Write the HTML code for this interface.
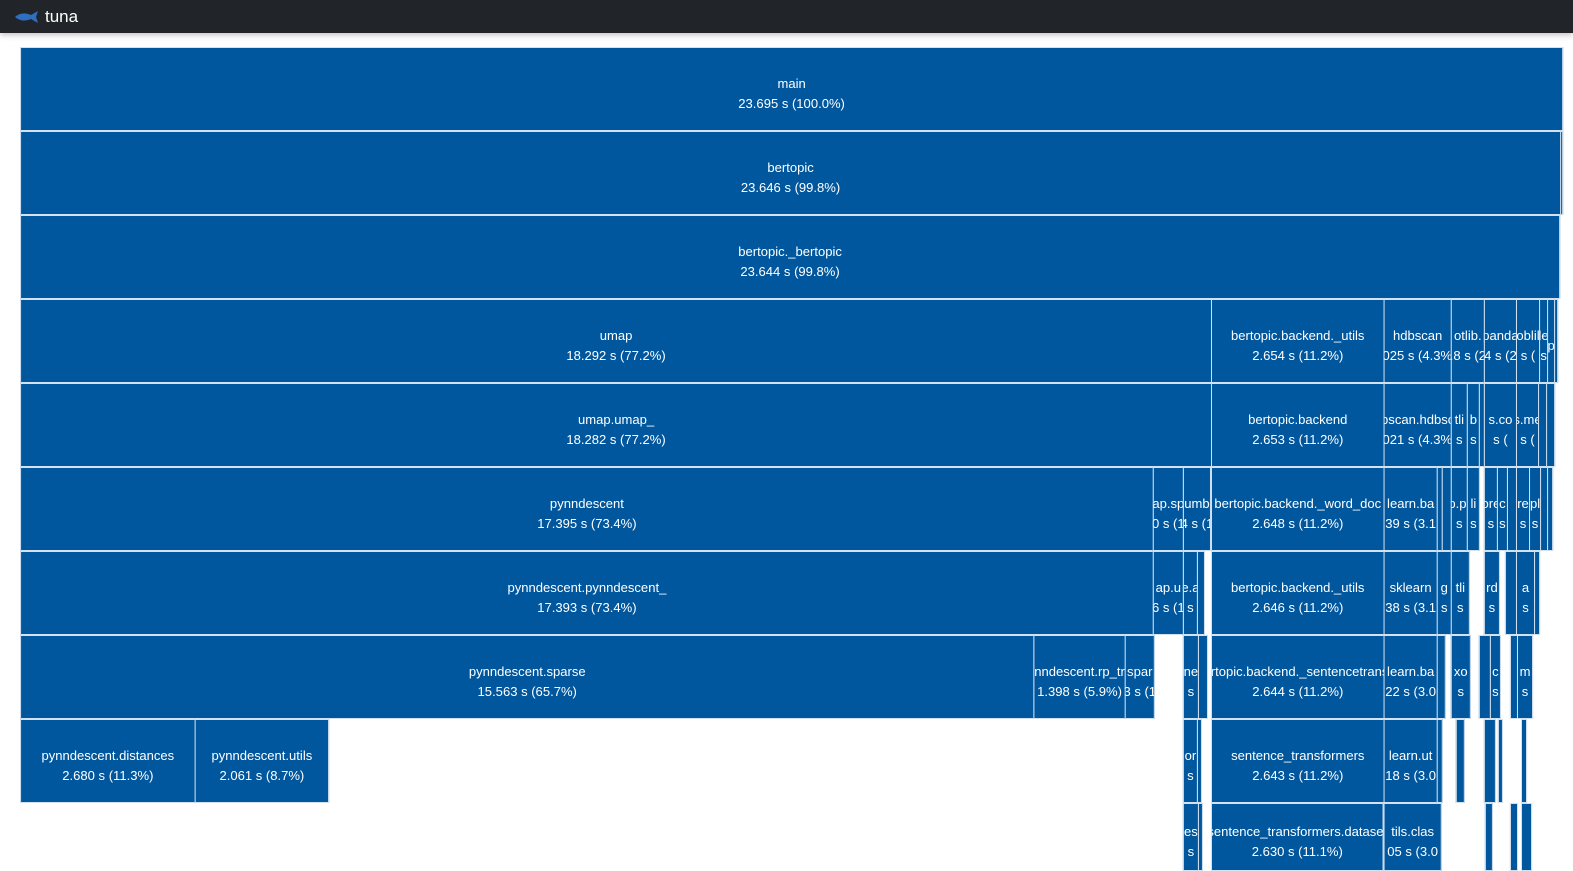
<!DOCTYPE html>
<html><head><meta charset="utf-8">
<style>
html,body{margin:0;padding:0;width:1573px;height:871px;overflow:hidden;background:#fff;font-family:"Liberation Sans","DejaVu Sans",sans-serif;}
#top{position:absolute;left:0;top:0;width:1573px;height:33px;background:#212529;box-shadow:0 2px 6px rgba(0,0,0,.25);z-index:2}
#top span{position:absolute;left:45px;top:7px;color:#fff;font-size:17px;}
#c{position:absolute;left:0;top:0;width:1573px;height:871px;transform:scaleX(1.0033);transform-origin:0 0;}
.b{position:absolute;background:#01579e;outline:1px solid #d4e2f0;outline-offset:-1px;box-sizing:border-box;overflow:hidden;color:#fff;font-size:13px;text-align:center;white-space:nowrap;display:flex;flex-direction:column;justify-content:center;align-items:center;line-height:20px;padding-top:10px;}
</style></head><body>
<div id="top"><svg style="position:absolute;left:14px;top:10px" width="26" height="14" viewBox="0 0 26 14"><path d="M1 7 Q8 1 17 5 L24 1 L22 7 L24 13 L17 9 Q8 13 1 7Z" fill="#2f6fc0"/></svg><span>tuna</span></div>
<div id="c"></div>
<script>
var R=[47,131,215,299,383,467,551,635,719,803];
var d=[
[0,20,1557,"main","23.695 s (100.0%)"],
[1,20,1555,"bertopic","23.646 s (99.8%)"],[1,1555,1557,"",""],
[2,20,1554,"bertopic._bertopic","23.644 s (99.8%)"],
[3,20,1207,"umap","18.292 s (77.2%)"],[3,1207,1379,"bertopic.backend._utils","2.654 s (11.2%)"],[3,1379,1446,"hdbscan",".025 s (4.3%)"],[3,1446,1479,"otlib.",".8 s (2"],[3,1479,1511,"panda","4 s (2"],[3,1511,1534,"oblil","s ("],[3,1534,1542,"le","s"],[3,1542,1549,"p",""],[3,1549,1552,"",""],
[4,20,1207,"umap.umap_","18.282 s (77.2%)"],[4,1207,1379,"bertopic.backend","2.653 s (11.2%)"],[4,1379,1446,"bscan.hdbsc",".021 s (4.3%)"],[4,1446,1462,"tli","s"],[4,1462,1474,"b","s"],[4,1474,1479,"",""],[4,1479,1511,"s.co","s ("],[4,1511,1533,"s.me","s ("],[4,1533,1541,"",""],[4,1541,1549,"",""],
[5,20,1149,"pynndescent","17.395 s (73.4%)"],[5,1149,1179,"ap.sp","0 s (1"],[5,1179,1206,"umb","4 s (1"],[5,1207,1379,"bertopic.backend._word_doc","2.648 s (11.2%)"],[5,1379,1432,"learn.ba","39 s (3.1"],[5,1432,1437,"",""],[5,1437,1446,"",""],[5,1446,1462,"p.pt","s"],[5,1462,1474,"li","s"],[5,1479,1492,"ore","s"],[5,1492,1502,"c","s"],[5,1502,1511,"",""],[5,1511,1524,"re","s"],[5,1524,1535,"pl","s"],[5,1535,1542,"",""],[5,1542,1547,"",""],
[6,20,1149,"pynndescent.pynndescent_","17.393 s (73.4%)"],[6,1149,1179,"ap.u","6 s (1"],[6,1179,1193,"e.a","s"],[6,1193,1200,"",""],[6,1207,1379,"bertopic.backend._utils","2.646 s (11.2%)"],[6,1379,1432,"sklearn","38 s (3.1"],[6,1432,1446,"g","s"],[6,1446,1464,"tli","s"],[6,1479,1494,"rd","s"],[6,1500,1511,"",""],[6,1511,1529,"a","s"],[6,1529,1534,"",""],
[7,20,1030,"pynndescent.sparse","15.563 s (65.7%)"],[7,1030,1121,"nndescent.rp_tr","1.398 s (5.9%)"],[7,1121,1150,"spar","3 s (1"],[7,1179,1194,"ne","s"],[7,1194,1203,"",""],[7,1207,1379,"bertopic.backend._sentencetransfo","2.644 s (11.2%)"],[7,1379,1432,"learn.ba","22 s (3.0"],[7,1432,1440,"",""],[7,1446,1465,"xo","s"],[7,1474,1485,"",""],[7,1485,1495,"c","s"],[7,1505,1512,"",""],[7,1512,1527,"m","s"],
[8,20,194,"pynndescent.distances","2.680 s (11.3%)"],[8,194,327,"pynndescent.utils","2.061 s (8.7%)"],[8,1179,1193,"or","s"],[8,1193,1197,"",""],[8,1207,1379,"sentence_transformers","2.643 s (11.2%)"],[8,1379,1432,"learn.ut","18 s (3.0"],[8,1432,1437,"",""],[8,1451,1459,"",""],[8,1479,1490,"",""],[8,1493,1497,"",""],[8,1516,1521,"",""],
[9,1179,1194,"es","s"],[9,1194,1198,"",""],[9,1207,1378,"sentence_transformers.dataset","2.630 s (11.1%)"],[9,1379,1436,"tils.clas","05 s (3.0"],[9,1480,1487,"",""],[9,1505,1512,"",""],[9,1516,1526,"",""]
];
var h="";
d.forEach(function(e){var w=e[2]-e[1];if(w<=0)return;var t=R[e[0]];var ht=e[0]==9?68:84;
h+='<div class="b" style="left:'+e[1]+'px;top:'+t+'px;width:'+(w+1)+'px;height:'+ht+'px">'+(e[3]?'<div>'+e[3]+'</div><div>'+e[4]+'</div>':'')+'</div>';});
document.getElementById("c").innerHTML=h;
</script>
</body></html>
